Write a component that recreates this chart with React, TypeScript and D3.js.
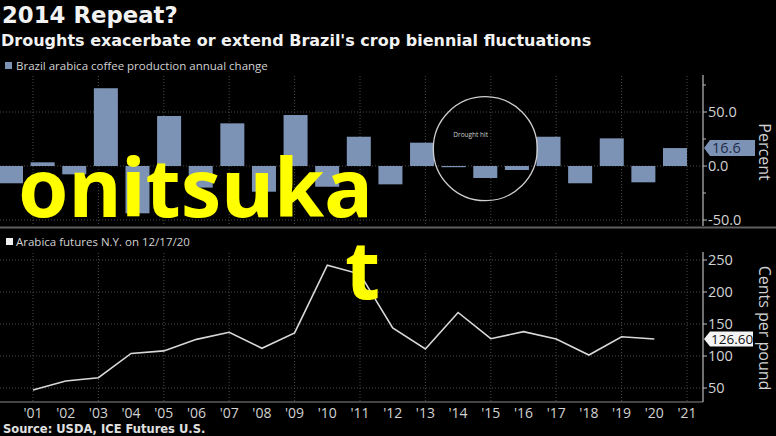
import React, { useEffect } from "react";
import * as d3 from "d3";

const W = 776;
const H = 436;

const barYears = [2000, 2001, 2002, 2003, 2004, 2005, 2006, 2007, 2008, 2009, 2010, 2011, 2012, 2013, 2014, 2015, 2016, 2017, 2018, 2019, 2020, 2021];
const barValues = [-16, 3.4, -7.7, 72, -43.8, 46.3, -20, 39.5, -23.8, 47.2, -19.2, 27.1, -17, 21.6, -1, -11.1, -3.7, 27.1, -16, 25.6, -15.1, 16.6];

const lineYears = [2001, 2002, 2003, 2004, 2005, 2006, 2007, 2008, 2009, 2010, 2011, 2012, 2013, 2014, 2015, 2016, 2017, 2018, 2019, 2020];
const lineValues = [47, 61, 66, 104, 108, 126, 137, 112, 136, 242, 228, 144, 111, 168, 127, 138, 126.5, 101.5, 130, 126.6];

const xTickYears = d3.range(2001, 2022);
const xTickLabels = xTickYears.map((y) => "'" + String(y).slice(2));
const gridYears = d3.range(2001, 2022, 2);
const pctTicks = [50, 0, -50];
const pctMinorTicks = [75, 25, -25];
const centTicks = [250, 200, 150, 100, 50];

const title = "2014 Repeat?";
const subtitle = "Droughts exacerbate or extend Brazil's crop biennial fluctuations";
const legend1 = "Brazil arabica coffee production annual change";
const legend2 = "Arabica futures N.Y. on 12/17/20";
const source = "Source: USDA, ICE Futures U.S.";
const annotation = { year: 2015, value: 16, text: "Drought hit" };
const lastBarLabel = "16.6";
const lastLineLabel = "126.60";
const watermark1 = "onitsuka";
const watermark2 = "t";

const BAR = "#7d93b6";
const GRID = "#4a4a4a";
const TXT = "#d2d2d2";
const FONT = "'Open Sans', 'Noto Sans', sans-serif";
const TFONT = "'DejaVu Sans', Verdana, sans-serif";
const WFONT = "'Noto Sans', sans-serif";

export default function App() {
  useEffect(() => {
    document.body.style.margin = "0";
    document.body.style.background = "#000";
  }, []);

  const x = d3.scaleLinear().domain([2001, 2021]).range([33, 687]);
  const xb = d3.scaleBand<number>().domain(barYears).range([-4.8, 690.8]).padding(0);
  const bw = 24;
  const yTop = d3.scaleLinear().domain([-50, 50]).range([220, 112]);
  const yBot = d3.scaleLinear().domain([50, 250]).range([388, 260]);
  const axisX = 703;

  const line = d3
    .line<number>()
    .x((_, i) => x(lineYears[i]))
    .y((d) => yBot(d));

  const lastBar = barValues[barValues.length - 1];
  const lastLine = lineValues[lineValues.length - 1];
  const annX = (xb(annotation.year) as number) + xb.bandwidth() / 2;
  const annY = yTop(annotation.value);

  const tag = (yc: number, w: number, h: number) =>
    `M${axisX + 1},${yc} L${axisX + 7},${yc - h / 2} L${axisX + 7 + w},${yc - h / 2} L${axisX + 7 + w},${yc + h / 2} L${axisX + 7},${yc + h / 2} Z`;

  return (
    <svg width={W} height={H} style={{ position: "absolute", left: 0, top: 0, background: "#000" }}>
      <rect x={0} y={0} width={W} height={H} fill="#000" />
      <text x={2} y={23} fill="#f2f2f2" fontFamily={TFONT} fontWeight="bold" fontSize={22.8}>{title}</text>
      <text x={1} y={46} fill="#f2f2f2" fontFamily={TFONT} fontWeight="bold" fontSize={16}>{subtitle}</text>

      {/* legend 1 */}
      <rect x={5} y={62} width={7} height={7} fill={BAR} />
      <text x={16} y={70} fill={TXT} fontFamily={FONT} fontSize={11.5}>{legend1}</text>

      {/* top panel grid */}
      {gridYears.map((g) => (
        <line key={"tg" + g} x1={x(g)} x2={x(g)} y1={76} y2={226} stroke={GRID} strokeDasharray="1,2" />
      ))}
      {pctTicks.map((t) => (
        <line key={"th" + t} x1={0} x2={axisX} y1={yTop(t)} y2={yTop(t)} stroke={GRID} strokeDasharray="1,2" />
      ))}
      {barYears.map((yr, i) => {
        const v = barValues[i];
        const cx = (xb(yr) as number) + xb.bandwidth() / 2;
        const y0 = yTop(0);
        const y1 = yTop(v);
        return (
          <rect key={"b" + yr} x={cx - bw / 2} y={Math.min(y0, y1)} width={bw} height={Math.max(1.2, Math.abs(y1 - y0))} fill={BAR} />
        );
      })}
      {/* annotation */}
      <circle cx={annX} cy={annY} r={52} fill="none" stroke="#cfcfcf" strokeWidth={1.3} />
      <text x={annX - 32} y={annY - 12} fill="#cfcfcf" fontFamily={FONT} fontSize={6.5}>{annotation.text}</text>

      {/* top axis */}
      <line x1={axisX} x2={axisX} y1={75} y2={226} stroke="#bbb" strokeWidth={1.2} />
      {pctTicks.map((t) => (
        <g key={"pt" + t}>
          <line x1={axisX} x2={axisX + 4} y1={yTop(t)} y2={yTop(t)} stroke="#bbb" />
          <text x={axisX + 5} y={yTop(t)} dy="0.36em" fill={TXT} fontFamily={FONT} fontSize={14.5}>{d3.format(".1f")(t).replace("−", "-")}</text>
        </g>
      ))}
      {pctMinorTicks.map((t) => (
        <line key={"pm" + t} x1={axisX} x2={axisX + 3} y1={yTop(t)} y2={yTop(t)} stroke="#bbb" />
      ))}
      <path d={tag(yTop(lastBar), 45, 16)} fill={BAR} />
      <text x={axisX + 9} y={yTop(lastBar)} dy="0.36em" fill="#1e2c48" fontFamily={FONT} fontSize={14.5}>{lastBarLabel}</text>
      <text transform={`translate(759,152) rotate(90)`} textAnchor="middle" fill={TXT} fontFamily={FONT} fontSize={16}>Percent</text>

      {/* separator */}
      <line x1={0} x2={W} y1={227.5} y2={227.5} stroke="#5e5e5e" strokeWidth={2} />

      {/* legend 2 */}
      <rect x={6} y={238} width={7} height={7} fill="#f0f0f0" />
      <text x={16} y={246} fill={TXT} fontFamily={FONT} fontSize={11.5}>{legend2}</text>

      {/* bottom grid */}
      {gridYears.map((g) => (
        <line key={"bg" + g} x1={x(g)} x2={x(g)} y1={253} y2={402} stroke={GRID} strokeDasharray="1,2" />
      ))}
      {centTicks.map((t) => (
        <line key={"bh" + t} x1={0} x2={axisX} y1={yBot(t)} y2={yBot(t)} stroke={GRID} strokeDasharray="1,2" />
      ))}
      <path d={line(lineValues) || ""} fill="none" stroke="#d8d8d8" strokeWidth={1.6} />

      {/* bottom axes */}
      <line x1={0} x2={axisX} y1={402} y2={402} stroke="#8a8a8a" strokeWidth={1.2} />
      <line x1={axisX} x2={axisX} y1={252} y2={402} stroke="#bbb" strokeWidth={1.2} />
      {centTicks.map((t) => (
        <g key={"ct" + t}>
          <line x1={axisX} x2={axisX + 4} y1={yBot(t)} y2={yBot(t)} stroke="#bbb" />
          <text x={axisX + 5} y={yBot(t)} dy="0.36em" fill={TXT} fontFamily={FONT} fontSize={14.5}>{t}</text>
        </g>
      ))}
      <path d={tag(yBot(lastLine), 43, 15)} fill="#f4f4f4" />
      <text x={axisX + 8} y={yBot(lastLine)} dy="0.36em" fill="#111" fontFamily={FONT} fontSize={13.5}>{lastLineLabel}</text>
      <text transform={`translate(759,328) rotate(90)`} textAnchor="middle" fill={TXT} fontFamily={FONT} fontSize={16}>Cents per pound</text>

      {xTickYears.map((yr, i) => (
        <text key={"xl" + yr} x={x(yr)} y={418} textAnchor="middle" fill={TXT} fontFamily={FONT} fontSize={14}>{xTickLabels[i]}</text>
      ))}

      <text x={3} y={433} fill="#e0e0e0" fontFamily={TFONT} fontWeight="bold" fontSize={11.5}>{source}</text>

      {/* watermark */}
      <text x={18} y={217} fill="#ffff00" fontFamily={WFONT} fontWeight="bold" fontSize={81}>{watermark1}</text>
      <text x={345} y={299} fill="#ffff00" fontFamily={WFONT} fontWeight="bold" fontSize={81}>{watermark2}</text>
    </svg>
  );
}
